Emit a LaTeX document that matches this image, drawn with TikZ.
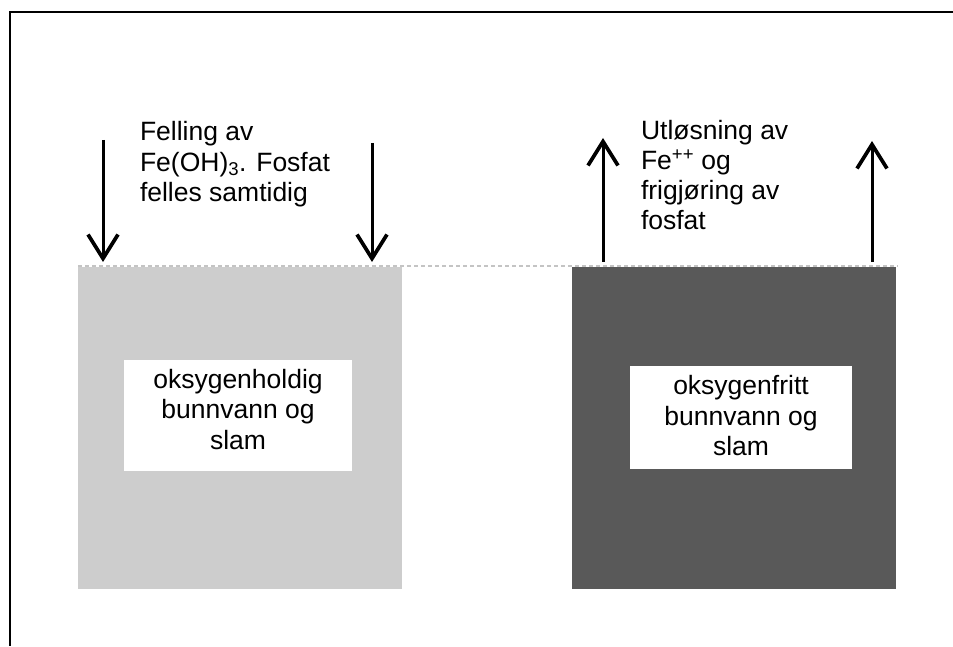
\documentclass[tikz,border=0pt]{standalone}
\usepackage{fontspec}
\setmainfont{Liberation Sans}
\usetikzlibrary{arrows.meta}
\definecolor{lightbox}{HTML}{CDCDCD}
\definecolor{darkbox}{HTML}{595959}
\definecolor{dashgray}{HTML}{C4C4C4}
\begin{document}
\begin{tikzpicture}[x=1pt,y=1pt,
  every node/.style={font=\fontsize{26.5}{30.3}\selectfont, inner sep=0pt, outer sep=0pt},
  sediment/.style={draw=none, rectangle, minimum width=324pt, minimum height=322pt, anchor=south west},
  labelbox/.style={fill=white, draw=none, rectangle},
  flux/.style={line width=3pt, -{Straight Barb[length=24pt,width=30pt,line width=3.7pt]}},
  frameline/.style={line width=2.3pt, line join=miter},
  surface/.style={dashgray, line width=1.2pt, dash pattern=on 4pt off 3pt}
]
\useasboundingbox (0,0) rectangle (953,646);
% frame
\coordinate (ftr) at (953,634);
\coordinate (ftl) at (10,634);
\coordinate (fbl) at (10,0);
\draw[frameline] (ftr) -- (ftl) -- (fbl);
% sediment boxes
\node[sediment, fill=lightbox] (oxy) at (78,57) {};
\node[sediment, fill=darkbox] (anox) at (572,57) {};
% surface dashed line
\coordinate (sl) at (78,380);
\coordinate (sr) at (898,380);
\draw[surface] (sl) -- (sr);
% inner label boxes
\node[labelbox, minimum width=228pt, minimum height=111pt] (oxylbl) at (238,230.5) {};
\node[labelbox, minimum width=222pt, minimum height=103pt] (anoxlbl) at (741,228.5) {};
\node[anchor=base, align=center] (oxytxt) at (238,197) {oksygenholdig\\bunnvann og\\slam};
\node[anchor=base, align=center] (anoxtxt) at (741,190.5) {oksygenfritt\\bunnvann og\\slam};
% top texts
\node[anchor=base west, align=left] (felltxt) at (140,444.5) {Felling av\\Fe(OH)\textsubscript{3}. Fosfat\\felles samtidig};
\node[anchor=base west, align=left] (losetxt) at (641,416) {Utløsning av\\Fe\textsuperscript{++} og\\frigjøring av\\fosfat};
% arrows
\coordinate (a1s) at (103,506); \coordinate (a1e) at (103,384);
\coordinate (a2s) at (372,503); \coordinate (a2e) at (372,384);
\coordinate (a3s) at (603,384); \coordinate (a3e) at (603,508);
\coordinate (a4s) at (872,384); \coordinate (a4e) at (872,505);
\draw[flux] (a1s) -- (a1e);
\draw[flux] (a2s) -- (a2e);
\draw[flux] (a3s) -- (a3e);
\draw[flux] (a4s) -- (a4e);
\end{tikzpicture}
\end{document}
